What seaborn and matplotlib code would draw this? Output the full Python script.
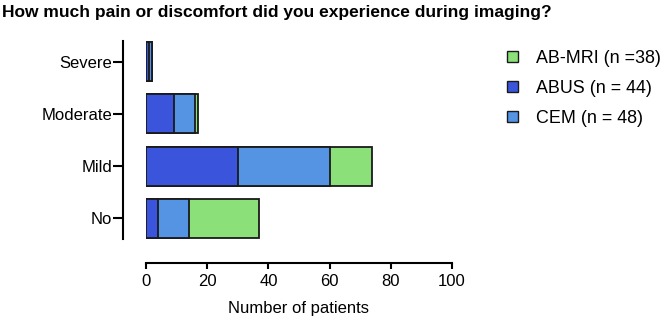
import matplotlib
matplotlib.use("Agg")
import matplotlib.pyplot as plt
import seaborn as sns
import numpy as np
import pandas as pd
from matplotlib.patches import Patch

categories = ["Severe", "Moderate", "Mild", "No"]
abus = [1, 9, 30, 4]
cem = [1, 7, 30, 10]
abmri = [0, 1, 14, 23]

series_labels = ["AB-MRI (n =38)", "ABUS (n = 44)", "CEM (n = 48)"]
xticks = [0, 20, 40, 60, 80, 100]

c_abus = "#3a55dc"
c_cem = "#5593e3"
c_mri = "#8ce07a"

sns.set_theme(style="ticks")
plt.rcParams['font.family'] = ['Liberation Sans', 'DejaVu Sans']
plt.rcParams['text.color'] = 'black'
plt.rcParams['axes.labelcolor'] = 'black'
plt.rcParams['xtick.color'] = 'black'
plt.rcParams['ytick.color'] = 'black'

fig = plt.figure(figsize=(6.66, 3.18), dpi=100)
ax = fig.add_axes([146/666, 79/318, 306/666, 198/318])

a = np.array(abus)
c = np.array(cem)
m = np.array(abmri)
df = pd.DataFrame({"cat": categories, "total": a + c + m, "ac": a + c, "a": a})

edge = "#1a1a1a"
sns.barplot(data=df, x="total", y="cat", orient="h", color=c_mri, saturation=1,
            edgecolor=edge, linewidth=1.3, width=0.75, ax=ax)
sns.barplot(data=df, x="ac", y="cat", orient="h", color=c_cem, saturation=1,
            edgecolor=edge, linewidth=1.3, width=0.75, ax=ax)
sns.barplot(data=df, x="a", y="cat", orient="h", color=c_abus, saturation=1,
            edgecolor=edge, linewidth=1.3, width=0.75, ax=ax)

ax.set_xlim(0, 100)
ax.set_ylim(3.4, -0.4)
ax.set_xticks(xticks)
ax.set_xticklabels([str(t) for t in xticks], fontsize=12)
ax.tick_params(axis="y", labelsize=12, length=7, width=1.5, pad=1, colors="black")
ax.tick_params(axis="x", labelsize=12, length=4.5, width=1.5, pad=4, colors="black")
ax.set_ylabel("")
ax.set_xlabel("Number of patients", fontsize=12, labelpad=8, color="black")

sns.despine(ax=ax)
ax.spines["left"].set_position(("outward", 16.5))
ax.spines["bottom"].set_position(("outward", 17))
for s in ("left", "bottom"):
    ax.spines[s].set_linewidth(1.5)
    ax.spines[s].set_color("black")

handles = [Patch(facecolor=c_mri, edgecolor=edge, linewidth=1.0),
           Patch(facecolor=c_abus, edgecolor=edge, linewidth=1.0),
           Patch(facecolor=c_cem, edgecolor=edge, linewidth=1.0)]
leg = fig.legend(handles, series_labels, loc="upper left", bbox_to_anchor=(507/666, 1 - 50/318),
                 frameon=False, fontsize=12.9, handlelength=0.62, handleheight=0.62,
                 handletextpad=1.0, labelspacing=0.72, borderaxespad=0, borderpad=0)
for t in leg.get_texts():
    t.set_color("black")

fig.text(2/666, 1 - 12/318, "How much pain or discomfort did you experience during imaging?",
         fontsize=12.5, fontweight="bold", ha="left", va="center", color="black")

fig.savefig("out.png", dpi=100)
